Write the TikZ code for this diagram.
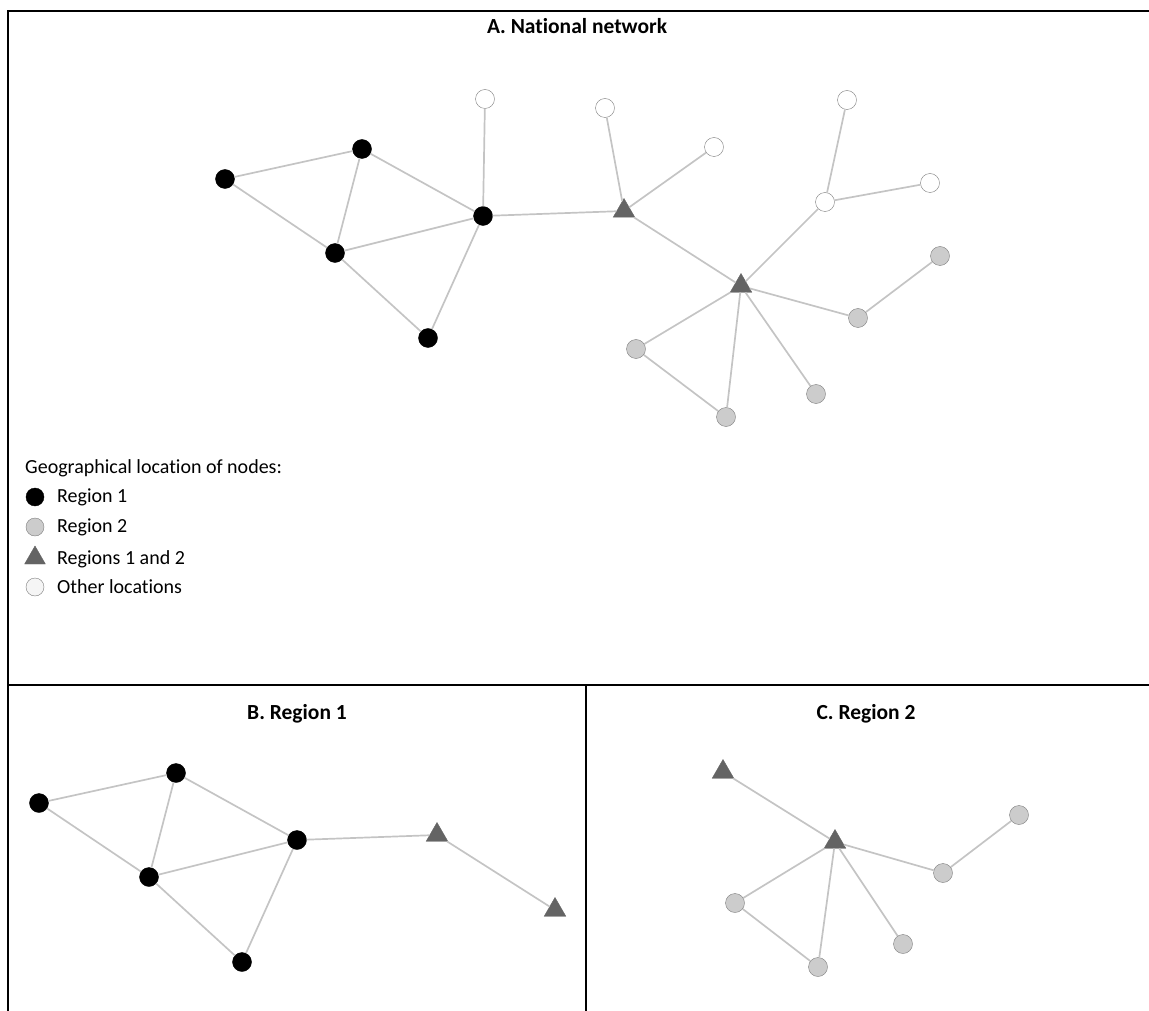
\documentclass[tikz,border=0pt]{standalone}
\usepackage{fontspec}
\setmainfont{Carlito}[Ligatures=NoCommon]
\usetikzlibrary{shapes.geometric,positioning}
\definecolor{linkgrey}{RGB}{196,196,196}
\definecolor{fillgrey}{RGB}{204,204,204}
\definecolor{ringgrey}{RGB}{125,125,125}
\definecolor{trigrey}{RGB}{100,100,100}

\begin{document}
\begin{tikzpicture}[x=1pt,y=-1pt,
regone/.style={circle,fill=black,draw=black,minimum size=19pt,inner sep=0pt},
regtwo/.style={circle,fill=fillgrey,draw=ringgrey,minimum size=19pt,inner sep=0pt},
other/.style={circle,fill=white,draw=ringgrey,minimum size=19pt,inner sep=0pt},
both/.style={regular polygon,regular polygon sides=3,fill=trigrey,draw=trigrey,minimum size=25pt,inner sep=0pt},
link/.style={draw=linkgrey,line width=1.7pt},
frame/.style={line width=2.2pt},
title/.style={font=\bfseries\fontsize{21.5}{25}\selectfont},
key/.style={font=\fontsize{20}{24}\selectfont,inner sep=0pt}]
\useasboundingbox (0,0) rectangle (1149,1011);
\draw[frame] (8,1011)--(8,11)--(1149,11);
\draw[frame] (8,685)--(1149,685);
\draw[frame] (586,685)--(586,1011);
\node[title] (ta) at (577,26) {A. National network};
\node[title] (tb) at (297,714) {B. Region 1};
\node[title] (tc) at (866,714) {C. Region 2};
\node[regone] (a1) at (225,179) {};
\node[regone] (a2) at (362,149) {};
\node[regone] (a3) at (335,253) {};
\node[regone] (a4) at (483,216) {};
\node[regone] (a5) at (428,338) {};
\node[other] (o1) at (485,99) {};
\node[other] (o2) at (605,108) {};
\node[other] (o3) at (714,147) {};
\node[other] (o4) at (847,100) {};
\node[other] (o5) at (825,202) {};
\node[other] (o6) at (930,183) {};
\node[both] (m1) at (624,211) {};
\node[both] (m2) at (741,286) {};
\node[regtwo] (g1) at (940,256) {};
\node[regtwo] (g2) at (858,318) {};
\node[regtwo] (g3) at (636,349) {};
\node[regtwo] (g4) at (726,417) {};
\node[regtwo] (g5) at (816,394) {};
\draw[link] (a1)--(a2); \draw[link] (a1)--(a3); \draw[link] (a2)--(a3);
\draw[link] (a2)--(a4); \draw[link] (a3)--(a4); \draw[link] (a3)--(a5);
\draw[link] (a4)--(a5); \draw[link] (a4)--(o1); \draw[link] (a4)--(m1);
\draw[link] (m1)--(o2); \draw[link] (m1)--(o3); \draw[link] (m1)--(m2);
\draw[link] (m2)--(o5); \draw[link] (o5)--(o4); \draw[link] (o5)--(o6);
\draw[link] (m2)--(g2); \draw[link] (g2)--(g1); \draw[link] (m2)--(g3);
\draw[link] (g3)--(g4); \draw[link] (m2)--(g4); \draw[link] (m2)--(g5);
\node[key,anchor=west] (kt) at (25,468) {Geographical location of nodes:};
\node[regone,minimum size=18pt] (k1) at (35,497) {};
\node[regtwo,minimum size=18pt] (k2) at (35,527) {};
\node[both,minimum size=24pt] (k3) at (35,558) {};
\node[other,minimum size=18pt,fill=black!4] (k4) at (35,587) {};
\node[key,right=22pt of k1.center,anchor=west] (k1t) {Region 1};
\node[key,right=22pt of k2.center,anchor=west] (k2t) {Region 2};
\node[key,right=22pt of k3.center,anchor=west,yshift=-1pt] (k3t) {Regions 1 and 2};
\node[key,right=22pt of k4.center,anchor=west] (k4t) {Other locations};
\node[regone] (b1) at (39,803) {};
\node[regone] (b2) at (176,773) {};
\node[regone] (b3) at (149,877) {};
\node[regone] (b4) at (297,840) {};
\node[regone] (b5) at (242,962) {};
\node[both] (bm1) at (437,835) {};
\node[both] (bm2) at (555,910) {};
\draw[link] (b1)--(b2); \draw[link] (b1)--(b3); \draw[link] (b2)--(b3);
\draw[link] (b2)--(b4); \draw[link] (b3)--(b4); \draw[link] (b3)--(b5);
\draw[link] (b4)--(b5); \draw[link] (b4)--(bm1); \draw[link] (bm1)--(bm2);
\node[both] (cm1) at (723,772) {};
\node[both] (cm2) at (835,842) {};
\node[regtwo] (c1) at (1019,815) {};
\node[regtwo] (c2) at (943,873) {};
\node[regtwo] (c3) at (735,903) {};
\node[regtwo] (c4) at (818,967) {};
\node[regtwo] (c5) at (903,944) {};
\draw[link] (cm1)--(cm2); \draw[link] (cm2)--(c2); \draw[link] (c2)--(c1);
\draw[link] (cm2)--(c3); \draw[link] (c3)--(c4); \draw[link] (cm2)--(c4);
\draw[link] (cm2)--(c5);
\end{tikzpicture}
\end{document}
